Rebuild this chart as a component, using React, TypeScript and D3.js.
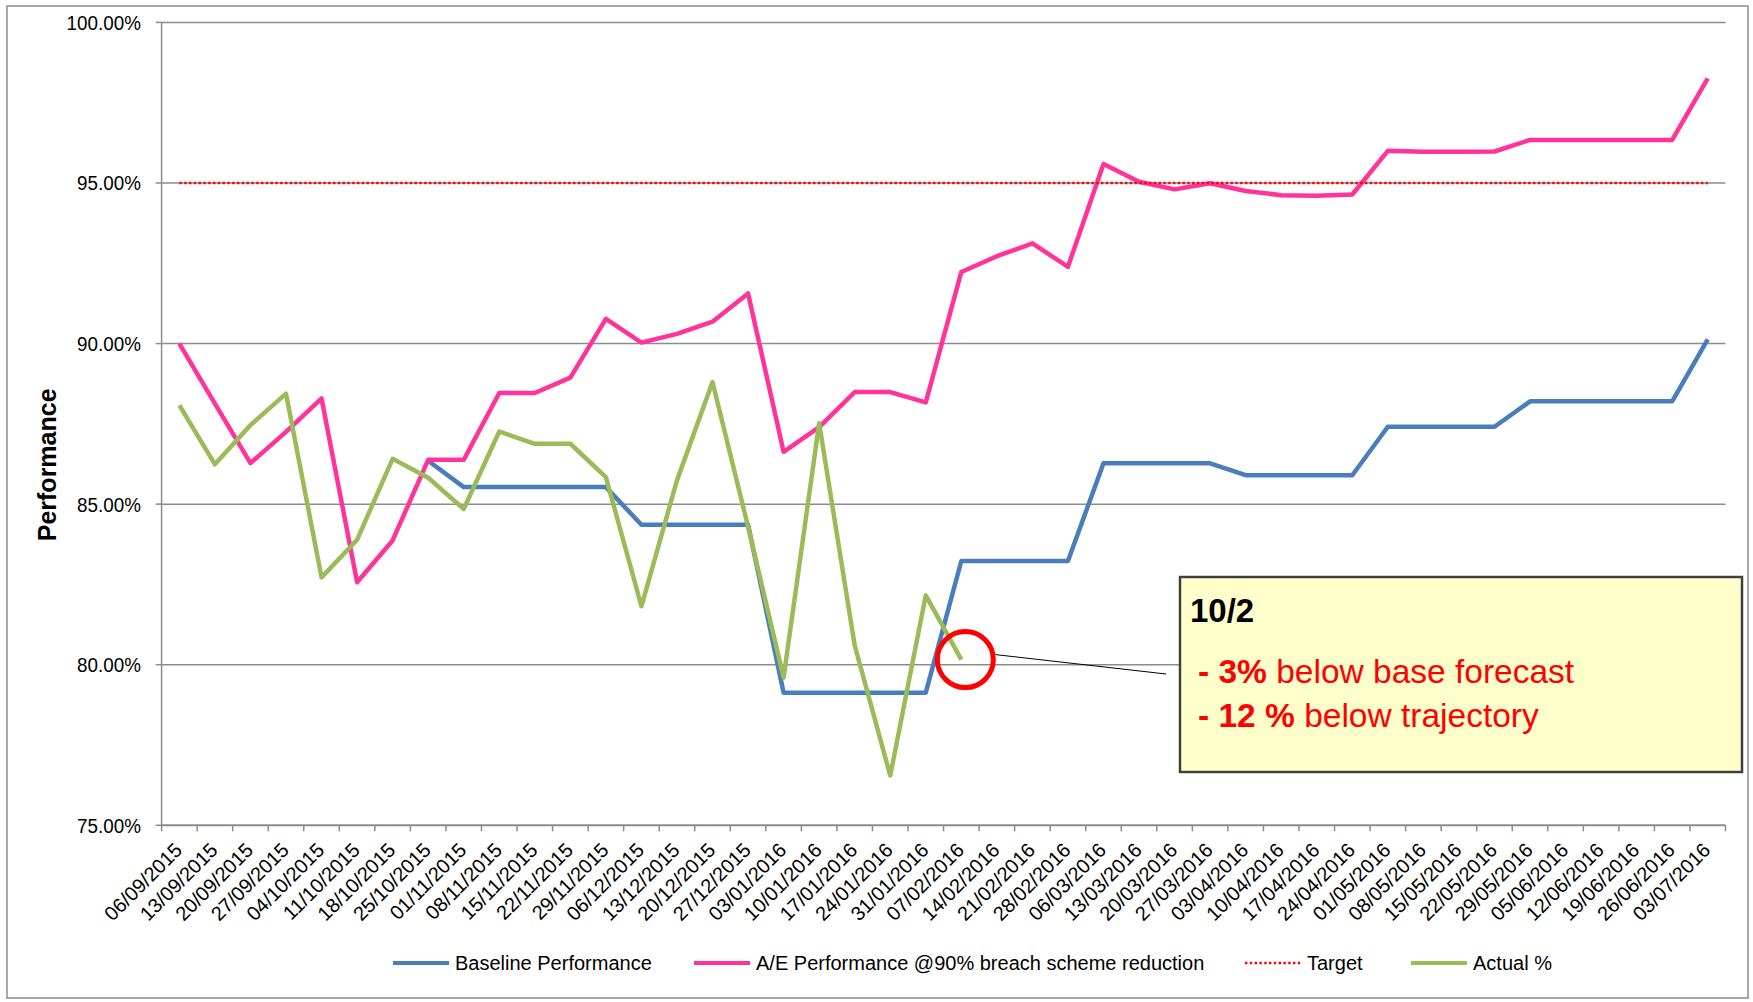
import React from 'react';
import * as d3 from 'd3';

const dates = [
  '06/09/2015', '13/09/2015', '20/09/2015', '27/09/2015', '04/10/2015', '11/10/2015',
  '18/10/2015', '25/10/2015', '01/11/2015', '08/11/2015', '15/11/2015', '22/11/2015',
  '29/11/2015', '06/12/2015', '13/12/2015', '20/12/2015', '27/12/2015', '03/01/2016',
  '10/01/2016', '17/01/2016', '24/01/2016', '31/01/2016', '07/02/2016', '14/02/2016',
  '21/02/2016', '28/02/2016', '06/03/2016', '13/03/2016', '20/03/2016', '27/03/2016',
  '03/04/2016', '10/04/2016', '17/04/2016', '24/04/2016', '01/05/2016', '08/05/2016',
  '15/05/2016', '22/05/2016', '29/05/2016', '05/06/2016', '12/06/2016', '19/06/2016',
  '26/06/2016', '03/07/2016',
];

// values in %
const baseline: (number | null)[] = [
  null, null, null, null, null, null, null, 86.35, 85.53, 85.53, 85.53, 85.53,
  85.53, 84.36, 84.36, 84.36, 84.36, 79.13, 79.13, 79.13, 79.13, 79.13, 83.23, 83.23,
  83.23, 83.23, 86.27, 86.27, 86.27, 86.27, 85.9, 85.9, 85.9, 85.9, 87.41, 87.41,
  87.41, 87.41, 88.2, 88.2, 88.2, 88.2, 88.2, 90.13,
];

const aePerf: (number | null)[] = [
  90.0, 88.13, 86.28, 87.25, 88.29, 82.57, 83.87, 86.38, 86.38, 88.46, 88.46, 88.94,
  90.77, 90.03, 90.3, 90.68, 91.56, 86.63, 87.4, 88.49, 88.49, 88.17, 92.23, 92.72,
  93.12, 92.39, 95.59, 95.04, 94.8, 94.99, 94.75, 94.62, 94.6, 94.64, 96.0, 95.97,
  95.97, 95.98, 96.34, 96.34, 96.34, 96.34, 96.34, 98.26,
];

const target: (number | null)[] = dates.map(() => 95);

const actual: (number | null)[] = [
  88.08, 86.24, 87.46, 88.44, 82.72, 83.89, 86.41, 85.82, 84.85, 87.26, 86.88, 86.88,
  85.84, 81.82, 85.74, 88.8, 84.3, 79.6, 87.52, 80.6, 76.55, 82.16, 80.16, null,
  null, null, null, null, null, null, null, null, null, null, null, null,
  null, null, null, null, null, null, null, null,
];

const yTicks = [75, 80, 85, 90, 95, 100];

const calloutIndex = 22;
const calloutTitle = '10/2';
const calloutLines = [
  { bold: '3%', rest: ' below base forecast' },
  { bold: '12 %', rest: ' below trajectory' },
];

const W = 1753;
const H = 1002;
const margin = { top: 22.4, right: 27.5, bottom: 176.7, left: 161.6 };
const FONT = "'Liberation Sans', Arial, sans-serif";

const series = [
  { name: 'Baseline Performance', values: baseline, color: '#4A7EBB', width: 4.5, dash: null },
  { name: 'A/E Performance @90% breach scheme reduction', values: aePerf, color: '#FF3399', width: 4.5, dash: null },
  { name: 'Target', values: target, color: '#FF0000', width: 2.5, dash: '2.4 2.4' },
  { name: 'Actual %', values: actual, color: '#9BBB59', width: 4.5, dash: null },
];

const legendX = [393, 694, 1245, 1411];

export default function App() {
  const x = d3.scaleBand<string>()
    .domain(dates)
    .range([margin.left, W - margin.right]);
  const y = d3.scaleLinear()
    .domain([75, 100])
    .range([H - margin.bottom, margin.top]);
  const cx = (d: string) => (x(d) as number) + x.bandwidth() / 2;

  const line = d3.line<number | null>()
    .defined((d) => d != null)
    .x((_, i) => cx(dates[i]))
    .y((d) => y(d as number));

  const x0 = margin.left;
  const x1 = W - margin.right;
  const yb = H - margin.bottom;

  const circX = cx(dates[calloutIndex]) + 4;
  const circY = y(actual[calloutIndex] as number);

  return (
    <svg width={W} height={H} style={{ position: 'absolute', left: 0, top: 0, background: '#fff' }} fontFamily={FONT}>
      <rect x={7} y={6} width={1741} height={992} fill="#fff" stroke="#8c8c8c" strokeWidth={1.5} />

      {/* gridlines + y axis */}
      {yTicks.map((t) => (
        <g key={t}>
          {t > 75 && <line x1={x0} x2={x1} y1={y(t)} y2={y(t)} stroke="#8c8c8c" strokeWidth={1.5} />}
          <line x1={x0 - 6} x2={x0} y1={y(t)} y2={y(t)} stroke="#8c8c8c" strokeWidth={1.5} />
          <text
            transform={`translate(141,${y(t)}) scale(0.92,1)`}
            dy="0.36em"
            textAnchor="end"
            fontSize={20.5}
            fill="#000"
          >
            {t.toFixed(2)}%
          </text>
        </g>
      ))}
      <line x1={x0} x2={x0} y1={margin.top} y2={yb} stroke="#8c8c8c" strokeWidth={1.5} />
      <line x1={x0} x2={x1} y1={yb} y2={yb} stroke="#8c8c8c" strokeWidth={2} />

      {/* x ticks between categories */}
      {dates.map((d) => (
        <line key={'t' + d} x1={x(d)} x2={x(d)} y1={yb} y2={yb + 6} stroke="#8c8c8c" strokeWidth={1.5} />
      ))}
      <line x1={x1} x2={x1} y1={yb} y2={yb + 6} stroke="#8c8c8c" strokeWidth={1.5} />
      {dates.map((d) => (
        <text
          key={'l' + d}
          transform={`translate(${cx(d) + 4},${yb + 26}) rotate(-45)`}
          textAnchor="end"
          fontSize={20}
          fill="#000"
        >
          {d}
        </text>
      ))}

      <text
        transform={`translate(56,${(margin.top + yb) / 2 + 41}) rotate(-90)`}
        textAnchor="middle"
        fontSize={25}
        fontWeight="bold"
        fill="#000"
      >
        Performance
      </text>

      {series.map((s) => (
        <path
          key={s.name}
          d={line(s.values) || ''}
          fill="none"
          stroke={s.color}
          strokeWidth={s.width}
          strokeDasharray={s.dash || undefined}
          strokeLinejoin="round"
          strokeLinecap="butt"
        />
      ))}

      {/* callout */}
      <circle cx={circX} cy={circY} r={28} fill="none" stroke="#FF0000" strokeWidth={5} />
      <line x1={circX + 30} y1={circY - 5} x2={1166} y2={674} stroke="#000" strokeWidth={1} />
      <rect x={1180} y={577} width={562} height={195} fill="#FFFFCC" stroke="#404040" strokeWidth={2.5} />
      <text x={1190} y={622} fontSize={33} fontWeight="bold" fill="#000">{calloutTitle}</text>
      {calloutLines.map((l, i) => (
        <text key={i} x={1198} y={683 + i * 44} fontSize={33.5} fill="#FF0000">
          <tspan fontWeight="bold">- {l.bold}</tspan>
          <tspan>{l.rest}</tspan>
        </text>
      ))}

      {/* legend */}
      {series.map((s, i) => (
        <g key={'lg' + s.name}>
          <line
            x1={legendX[i]}
            x2={legendX[i] + 56}
            y1={963}
            y2={963}
            stroke={s.color}
            strokeWidth={s.dash ? 2.5 : 4}
            strokeDasharray={s.dash || undefined}
          />
          <text x={legendX[i] + 62} y={963} dy="0.35em" fontSize={20} fill="#000">
            {s.name}
          </text>
        </g>
      ))}
    </svg>
  );
}
